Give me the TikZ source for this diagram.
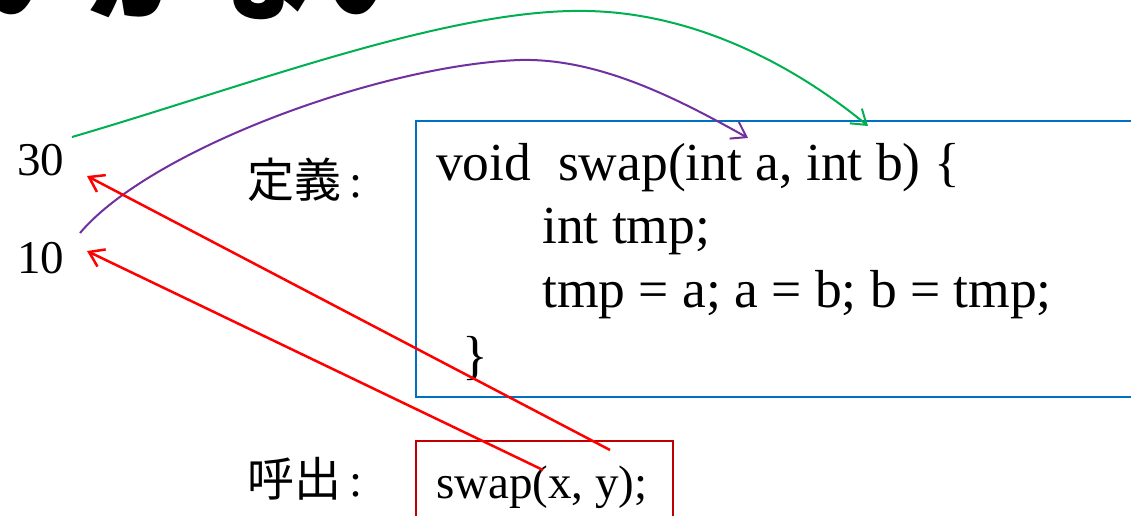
\documentclass[tikz,border=0pt]{standalone}
\usepackage{fontspec}
\setmainfont{Liberation Serif}
\newfontfamily\cjk{Noto Sans CJK JP}
\usetikzlibrary{arrows.meta}
\definecolor{lgreen}{HTML}{00B050}
\definecolor{lpurple}{HTML}{7030A0}
\definecolor{lblue}{HTML}{0070C0}
\definecolor{dred}{HTML}{C00000}
\definecolor{bred}{HTML}{FF0000}
\begin{document}
\begin{tikzpicture}[x=1pt,y=-1pt,
  arr/.style={-{Straight Barb[length=14pt,width=19pt]}, line width=2pt},
  code/.style={font=\fontsize{53.5}{62}\selectfont, anchor=base west, inner sep=0pt},
  lbl/.style={font=\fontsize{47}{56}\selectfont, anchor=base west, inner sep=0pt},
  frame/.style={draw, line width=2pt, anchor=north west, inner sep=0pt}
]
\useasboundingbox (0,0) rectangle (1131,516);
\clip (0,0) rectangle (1131,516);
% title (cut off at top)
\node[anchor=base west, inner sep=0pt, font=\cjk\bfseries\fontsize{115}{120}\selectfont] (title) at (-375,12) {うまくいかない};
% boxes
\node[frame, draw=lblue, minimum width=730pt, minimum height=276pt] (defbox) at (415,120) {};
\node[frame, draw=dred, minimum width=257pt, minimum height=100pt] (callbox) at (415,440) {};
% code text
\node[code] (l1) at (436,180) {void\ \ swap(int a, int b) \{};
\node[code] (l2) at (542,243) {int tmp;};
\node[code] (l3) at (542,307) {tmp = a; a = b; b = tmp;};
\node[code] (l4) at (462,373) {\}};
\node[lbl] (sw) at (436,498) {swap(x, y);};
% labels
\node[lbl] (n30) at (17,175) {30};
\node[lbl] (n10) at (17,273) {10};
\node[lbl] (def) at (247,197) {{\cjk 定義}\,:};
\node[lbl] (call) at (247,496) {{\cjk 呼出}\,:};
% connector endpoints
\coordinate (g0) at (72,137);
\coordinate (g1) at (868,126);
\coordinate (p0) at (80,233);
\coordinate (p1) at (748,138);
\coordinate (rx) at (543,470);
\coordinate (ry) at (610,450);
\coordinate (t10) at (87,251);
\coordinate (t30) at (87,176);
% connectors
\draw[arr, lgreen] (g0) .. controls (250,85) and (450,8) .. (587,11) .. controls (700,13) and (800,70) .. (g1);
\draw[arr, lpurple] (p0) .. controls (150,150) and (380,65) .. (520,60) .. controls (600,58) and (680,100) .. (p1);
\draw[arr, bred, line width=2.5pt] (rx) -- (t10);
\draw[arr, bred, line width=2.5pt] (ry) -- (t30);
\end{tikzpicture}
\end{document}
